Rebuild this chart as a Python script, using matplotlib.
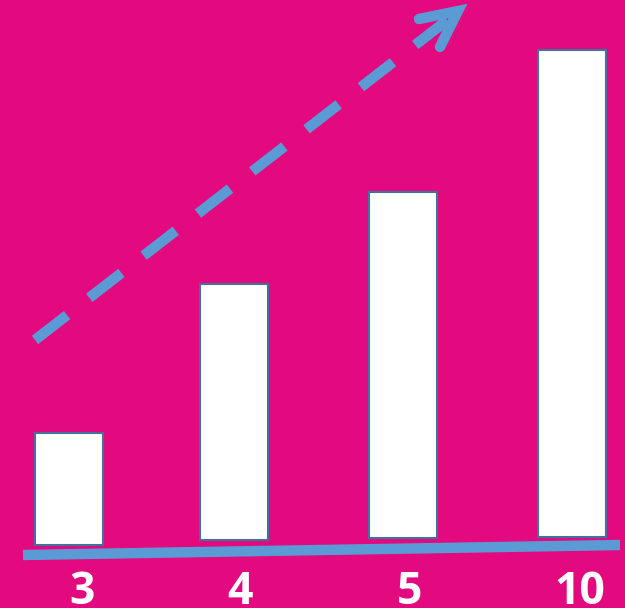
import matplotlib.pyplot as plt
from matplotlib.patches import Rectangle

# --------------------------------------------------
# Data (pixel units)
# --------------------------------------------------

labels = ["3", "4", "5", "10"]
bar_left = [35, 200, 369, 538]
bar_top = [433, 284, 192, 50]
bar_bottom = [545, 540, 538, 537]
bar_width = 68

label_x = [82, 240, 410, 580]

base_x = [23, 620]
base_y = [555, 545]

arrow_x = [35, 450]
arrow_y = [340, 18]

# --------------------------------------------------
# Figure
# --------------------------------------------------

bg = "#E3097E"
blue = "#5B9BD5"

fig = plt.figure(figsize=(6.25, 6.08), dpi=100)
fig.patch.set_facecolor(bg)
ax = fig.add_axes([0, 0, 1, 1])
ax.set_facecolor(bg)
ax.set_xlim(0, 625)
ax.set_ylim(608, 0)
ax.axis("off")

# bars
for x, top, bottom in zip(bar_left, bar_top, bar_bottom):
    ax.add_patch(Rectangle((x, top), bar_width, bottom - top,
                           facecolor="white", edgecolor="#41719C",
                           linewidth=1.5, zorder=2))

# slanted baseline
ax.plot(base_x, base_y, color=blue, linewidth=7.5,
        solid_capstyle="butt", zorder=3)

# dashed trend arrow
ax.plot(arrow_x, arrow_y, color=blue, linewidth=7.5,
        linestyle=(0, (3.9, 2.7)), dash_capstyle="butt", zorder=3)
tip = (458, 11)
ax.plot([419, tip[0], 440], [19, tip[1], 47], color=blue,
        linewidth=7.5, solid_capstyle="round", solid_joinstyle="miter",
        zorder=3)

# category labels
for x, lab in zip(label_x, labels):
    ax.text(x, 570, lab, color="white", fontsize=32, fontweight="bold",
            family="Open Sans", ha="center", va="top")

fig.savefig("out.png", dpi=100, facecolor=bg)
